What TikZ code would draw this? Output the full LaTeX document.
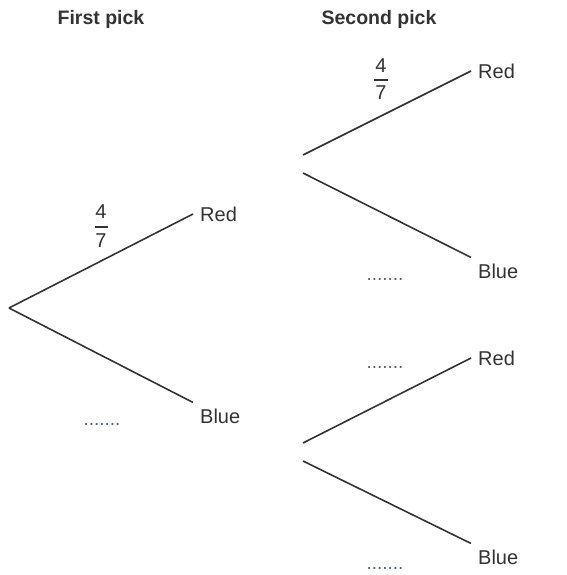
\documentclass[tikz,border=0pt]{standalone}
\usepackage{fontspec}
\setmainfont{Liberation Sans}
\definecolor{ink}{HTML}{333333}
\definecolor{dotc}{HTML}{55607A}
\begin{document}
\begin{tikzpicture}[x=1pt,y=-1pt,
  every node/.style={text=ink,font=\fontsize{20}{24}\selectfont},
  branch/.style={draw=ink,line width=1.6pt},
  leaf/.style={anchor=west,inner xsep=7pt,inner ysep=6pt},
  head/.style={anchor=base,font=\fontsize{19.5}{24}\selectfont\bfseries},
  numer/.style={inner sep=0pt},
  fracbar/.style={draw=ink,line width=1.5pt},
  blank/.style={anchor=base,inner sep=0pt,text=dotc,font=\fontsize{19}{24}\selectfont}]
\useasboundingbox (0,0) rectangle (566,575);
% headers
\node[head] (h1) at (101,25) {First pick};
\node[head] (h2) at (379,25) {Second pick};
% first level
\coordinate (root) at (9,308);
\node[leaf] (r1) at (193,214) {Red};
\node[leaf] (b1) at (193,416) {Blue};
\draw[branch] (root) -- (r1.west);
\draw[branch] (root) -- (b1.north west);
% second level, upper
\coordinate (fa1) at (303,155);
\coordinate (fa2) at (303,173);
\node[leaf] (r2) at (471,71) {Red};
\node[leaf] (b2) at (471,271) {Blue};
\draw[branch] (fa1) -- (r2.west);
\draw[branch] (fa2) -- (b2.north west);
% second level, lower
\coordinate (fb1) at (303,443);
\coordinate (fb2) at (303,461);
\node[leaf] (r3) at (471,358) {Red};
\node[leaf] (b3) at (471,557) {Blue};
\draw[branch] (fb1) -- (r3.west);
\draw[branch] (fb2) -- (b3.north west);
% fractions
\node[numer] (n1) at (101,212) {4};
\node[numer] (d1) at (101,240.5) {7};
\coordinate (l1) at (95,227);
\coordinate (m1) at (108,227);
\draw[fracbar] (l1) -- (m1);
\node[numer] (n2) at (381,65.5) {4};
\node[numer] (d2) at (381,93) {7};
\coordinate (l2) at (374,80);
\coordinate (m2) at (388,80);
\draw[fracbar] (l2) -- (m2);
% blanks
\node[blank] (k1) at (102,425) {.......};
\node[blank] (k2) at (385,280) {.......};
\node[blank] (k3) at (385,368) {.......};
\node[blank] (k4) at (385,569) {.......};
\end{tikzpicture}
\end{document}
